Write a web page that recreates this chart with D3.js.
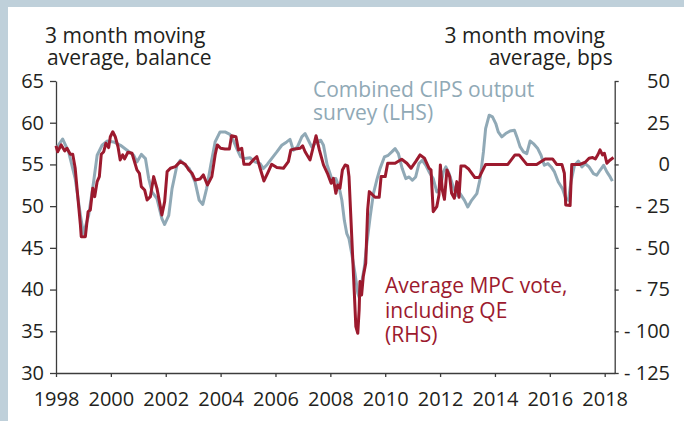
<!DOCTYPE html>
<html>
<head>
<meta charset="utf-8">
<script src="https://cdn.jsdelivr.net/npm/d3@7"></script>
<style>
  html, body { margin: 0; padding: 0; background: #bfd0da; }
  svg { display: block; }
  text { font-family: "Open Sans", "Noto Sans", sans-serif; fill: #231f20; }
</style>
</head>
<body>
<div id="chart"></div>
<script>
// CIPS output survey, 3 month moving average (LHS)
const cipsDates = [1998.0, 1998.24, 1998.46, 1998.7, 1998.89, 1999.0, 1999.19, 1999.37, 1999.5, 1999.68,
  1999.86, 2000.1, 2000.35, 2000.59, 2000.83, 2000.95, 2001.11, 2001.26, 2001.38, 2001.5,
  2001.68, 2001.86, 2001.96, 2002.11, 2002.23, 2002.41, 2002.53, 2002.71, 2002.86, 2003.07,
  2003.22, 2003.35, 2003.49, 2003.64, 2003.8, 2003.98, 2004.16, 2004.34, 2004.46, 2004.59,
  2004.73, 2004.89, 2005.07, 2005.25, 2005.44, 2005.56, 2005.7, 2005.86, 2006.05, 2006.23,
  2006.41, 2006.53, 2006.65, 2006.8, 2006.96, 2007.08, 2007.2, 2007.32, 2007.5, 2007.65,
  2007.75, 2007.88, 2008.05, 2008.2, 2008.32, 2008.42, 2008.51, 2008.6, 2008.68, 2008.78,
  2008.9, 2009.0, 2009.06, 2009.14, 2009.24, 2009.33, 2009.45, 2009.57, 2009.69, 2009.81,
  2009.97, 2010.11, 2010.24, 2010.36, 2010.48, 2010.62, 2010.75, 2010.87, 2010.99, 2011.11,
  2011.23, 2011.35, 2011.48, 2011.6, 2011.75, 2011.88, 2012.0, 2012.12, 2012.21, 2012.33,
  2012.48, 2012.61, 2012.73, 2012.89, 2013.01, 2013.15, 2013.34, 2013.46, 2013.58, 2013.66,
  2013.79, 2013.91, 2014.03, 2014.12, 2014.25, 2014.39, 2014.55, 2014.71, 2014.8, 2014.92,
  2015.04, 2015.16, 2015.28, 2015.4, 2015.56, 2015.68, 2015.8, 2015.93, 2016.05, 2016.17,
  2016.31, 2016.46, 2016.58, 2016.68, 2016.77, 2016.9, 2017.04, 2017.17, 2017.29, 2017.43,
  2017.59, 2017.71, 2017.83, 2017.96, 2018.08, 2018.2, 2018.28];
const cipsValues = [56.9, 58.05, 56.5, 53.3, 48.9, 46.7, 48.9, 52.9, 56.1, 57.3,
  57.8, 57.7, 57.3, 56.7, 56.1, 55.3, 56.2, 55.7, 53.3, 51.7,
  50.9, 48.5, 47.8, 48.9, 52.1, 54.9, 55.5, 54.9, 54.5, 52.9,
  50.7, 50.2, 52.1, 54.9, 57.7, 58.9, 58.9, 58.6, 57.9, 56.9,
  55.9, 55.7, 55.8, 55.3, 55.1, 54.5, 55.0, 55.7, 56.5, 57.3,
  57.7, 58.0, 56.7, 57.1, 58.3, 58.7, 57.9, 57.1, 57.7, 57.9,
  57.3, 55.0, 53.3, 53.3, 52.3, 50.7, 48.3, 46.7, 46.1, 44.3,
  41.9, 39.6, 39.0, 40.8, 42.7, 45.5, 48.7, 51.5, 53.1, 54.5,
  55.9, 56.1, 56.5, 56.9, 56.3, 54.5, 53.3, 53.5, 53.1, 53.5,
  55.1, 55.5, 54.9, 54.1, 53.3, 51.7, 52.1, 54.1, 54.7, 53.9,
  52.3, 51.3, 51.5, 50.7, 49.9, 50.7, 51.5, 53.3, 56.5, 59.3,
  60.9, 60.7, 59.9, 58.9, 58.3, 58.7, 59.0, 59.1, 58.3, 57.1,
  56.5, 56.3, 57.8, 57.5, 56.9, 56.1, 54.9, 55.1, 54.7, 54.1,
  52.9, 52.1, 50.9, 50.7, 52.9, 54.9, 55.4, 54.7, 55.1, 54.7,
  53.9, 53.7, 54.3, 54.9, 54.1, 53.5, 53.0];

// Average MPC vote including QE, bps (RHS)
const mpcDates = [1998.0, 1998.06, 1998.19, 1998.32, 1998.4, 1998.52, 1998.61, 1998.7, 1998.8, 1998.89,
  1998.92, 1999.07, 1999.17, 1999.25, 1999.34, 1999.41, 1999.5, 1999.58, 1999.65, 1999.74,
  1999.82, 1999.92, 1999.98, 2000.07, 2000.16, 2000.26, 2000.34, 2000.43, 2000.5, 2000.62,
  2000.77, 2000.95, 2001.04, 2001.11, 2001.23, 2001.32, 2001.44, 2001.56, 2001.68, 2001.77,
  2001.86, 2001.96, 2002.05, 2002.17, 2002.35, 2002.53, 2002.71, 2002.84, 2002.96, 2003.07,
  2003.25, 2003.37, 2003.52, 2003.68, 2003.8, 2003.88, 2004.0, 2004.16, 2004.32, 2004.4,
  2004.56, 2004.65, 2004.77, 2004.85, 2005.05, 2005.19, 2005.32, 2005.44, 2005.58, 2005.74,
  2005.86, 2006.05, 2006.29, 2006.47, 2006.56, 2006.71, 2006.9, 2006.99, 2007.08, 2007.26,
  2007.38, 2007.48, 2007.6, 2007.75, 2007.91, 2008.03, 2008.11, 2008.2, 2008.27, 2008.35,
  2008.44, 2008.54, 2008.63, 2008.68, 2008.78, 2008.88, 2008.93, 2009.0, 2009.05, 2009.08,
  2009.14, 2009.2, 2009.29, 2009.36, 2009.42, 2009.63, 2009.78, 2009.85, 2010.0, 2010.09,
  2010.36, 2010.6, 2010.79, 2010.94, 2011.11, 2011.27, 2011.43, 2011.6, 2011.67, 2011.75,
  2011.88, 2011.96, 2012.01, 2012.08, 2012.16, 2012.25, 2012.35, 2012.42, 2012.52, 2012.61,
  2012.69, 2012.76, 2012.91, 2013.05, 2013.27, 2013.42, 2013.66, 2014.47, 2014.73, 2014.88,
  2015.16, 2015.52, 2015.83, 2016.1, 2016.25, 2016.44, 2016.53, 2016.58, 2016.74, 2016.8,
  2017.1, 2017.29, 2017.43, 2017.56, 2017.66, 2017.76, 2017.83, 2017.92, 2017.99, 2018.08,
  2018.2, 2018.32];
const mpcValues = [11.2, 7.6, 11.7, 8.1, 9.7, 6.1, 6.1, -2.3, -20.3, -36.3,
  -43.3, -43.3, -28.3, -27.3, -14.3, -19.3, -10.3, -7.3, 6.1, 7.6,
  12.7, 10.1, 16.6, 19.6, 16.6, 10.6, 2.7, 5.7, 3.3, 7.3,
  6.7, -3.3, -5.3, -13.3, -15.3, -21.3, -19.3, -7.3, -14.3, -22.3,
  -30.3, -22.3, -4.3, -2.3, -1.3, 1.7, 0.1, -3.3, -5.3, -9.3,
  -8.7, -6.3, -12.3, -7.3, 5.7, 11.7, 9.7, 9.3, 9.3, 17.2,
  16.6, 8.7, 9.7, 0.1, 0.1, 2.7, 4.7, -2.3, -9.9, -4.3,
  0.1, -1.9, -2.3, 1.7, 8.7, 9.3, 9.7, 11.2, 7.6, 2.7,
  10.6, 17.2, 8.7, -0.3, -6.0, -11.3, -8.3, -17.3, -12.3, -14.3,
  -3.3, -0.3, -0.9, -7.3, -43.3, -79.2, -97.2, -101.2, -87.2, -70.2,
  -78.2, -67.2, -59.2, -27.3, -16.3, -19.7, -19.7, -7.3, -7.3, 0.7,
  0.7, 3.1, 0.7, -2.3, 1.7, 5.7, 3.7, -2.3, -3.3, -28.3,
  -25.3, -18.3, -0.3, -15.3, -20.9, -3.3, -7.3, -17.3, -20.3, -10.3,
  -19.7, -0.9, -1.0, -2.9, -7.9, -7.9, 0, 0, 5.7, 5.7,
  0, 0, 3.3, 3.3, 0, 0, -5.3, -24.3, -24.6, 0,
  0, 1.3, 3.7, 4.1, 3.3, 6.1, 8.7, 5.7, 6.7, 0.7,
  2.7, 4.1];

const xTicks = [1998, 2000, 2002, 2004, 2006, 2008, 2010, 2012, 2014, 2016, 2018];
const leftTicks = [30, 35, 40, 45, 50, 55, 60, 65];
const rightTicks = [-125, -100, -75, -50, -25, 0, 25, 50];

const W = 684, H = 421;
const plotL = 56, plotR = 614.7, plotT = 81, plotB = 373;

const svg = d3.select("#chart").append("svg").attr("width", W).attr("height", H);

svg.append("rect").attr("x", 8).attr("y", 7).attr("width", W - 8).attr("height", H - 7).attr("fill", "#ffffff");

const x = d3.scaleLinear().domain([1998, 2018.365]).range([plotL, plotR]);
const yL = d3.scaleLinear().domain([30, 65]).range([plotB, plotT]);
const yR = d3.scaleLinear().domain([-125, 50]).range([plotB, plotT]);

// axes
const axisColor = "#3c3c3c";

const gL = svg.append("g").attr("transform", "translate(" + plotL + ",0)")
  .call(d3.axisLeft(yL).tickValues(leftTicks).tickSize(6).tickSizeOuter(0).tickPadding(6));

const gR = svg.append("g").attr("transform", "translate(" + plotR + ",0)")
  .call(d3.axisRight(yR).tickValues(rightTicks).tickSize(4).tickSizeOuter(0)
    .tickFormat(d => d < 0 ? "- " + Math.abs(d) : String(d)));
gR.selectAll(".tick text").attr("text-anchor", "end").attr("x", 670 - plotR);

const gB = svg.append("g").attr("transform", "translate(0," + plotB + ")")
  .call(d3.axisBottom(x).tickValues(xTicks).tickSize(4).tickSizeOuter(0).tickPadding(15).tickFormat(d3.format("d")));

[gL, gR, gB].forEach(g => {
  g.select(".domain").attr("stroke", axisColor).attr("stroke-width", 1.3);
  g.selectAll(".tick line").attr("stroke", axisColor).attr("stroke-width", 1.3);
  g.selectAll(".tick text").attr("fill", "#231f20")
    .style("font-size", "20px").style("font-family", "'Open Sans', 'Noto Sans', sans-serif");
});

// series
const cipsLine = d3.line().x((d, i) => x(cipsDates[i])).y(d => yL(d));
const mpcLine = d3.line().x((d, i) => x(mpcDates[i])).y(d => yR(d));

svg.append("path").datum(cipsValues).attr("d", cipsLine)
  .attr("fill", "none").attr("stroke", "#90a9b6").attr("stroke-width", 3).attr("stroke-linejoin", "round");

svg.append("path").datum(mpcValues).attr("d", mpcLine)
  .attr("fill", "none").attr("stroke", "#9c1a2e").attr("stroke-width", 3).attr("stroke-linejoin", "round");

// multi-line labels, one text element each
function label(lines, xs, y0, step, anchor, color) {
  let t = svg.append("text").attr("text-anchor", anchor)
    .style("font-size", "21px").style("fill", color || "#231f20");
  lines.forEach((s, i) => {
    t.append("tspan").attr("x", xs[i]).attr("y", y0 + i * step).text(s);
  });
}

label(["3 month moving", "average, balance"], [45, 47], 42.5, 22.5, "start");
label(["3 month moving", "average, bps"], [605, 612.7], 42.5, 22.5, "end");
label(["Combined CIPS output", "survey (LHS)"], [313, 313], 96.5, 23, "start", "#90a9b6");
label(["Average MPC vote,", "including QE", "(RHS)"], [385, 385, 385], 293.3, 24.2, "start", "#9c1a2e");
</script>
</body>
</html>
